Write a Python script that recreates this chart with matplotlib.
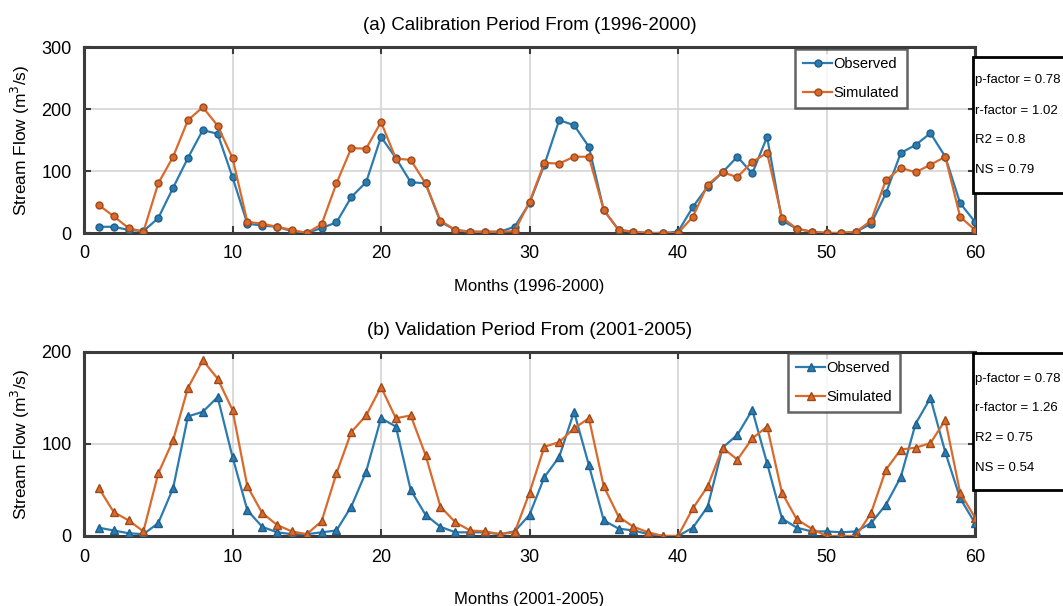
import matplotlib
matplotlib.use("Agg")
import matplotlib.pyplot as plt
import numpy as np

months = list(range(1, 61))

obs_cal = [10, 10, 5, 3, 24, 73, 121, 166, 160, 90,
           15, 12, 10, 3, 0, 8, 17, 58, 82, 155,
           121, 82, 80, 18, 5, 2, 2, 2, 10, 48,
           110, 182, 174, 139, 37, 5, 2, 0, 0, 2,
           42, 75, 98, 123, 96, 155, 20, 7, 2, 0,
           0, 2, 15, 64, 129, 142, 161, 123, 48, 18]
sim_cal = [45, 27, 8, 2, 80, 123, 182, 203, 173, 121,
           18, 15, 10, 5, 0, 14, 80, 137, 136, 179,
           120, 118, 80, 20, 5, 2, 2, 2, 3, 50,
           113, 112, 123, 123, 37, 5, 2, 0, 0, 0,
           26, 78, 98, 90, 115, 129, 25, 7, 2, 0,
           0, 2, 20, 85, 105, 98, 110, 123, 26, 5]

obs_val = [9, 6, 3, 2, 14, 52, 130, 135, 151, 86,
           28, 10, 4, 2, 2, 4, 6, 32, 70, 128,
           119, 50, 23, 10, 4, 4, 4, 2, 5, 23,
           64, 86, 135, 77, 17, 8, 6, 2, 0, 0,
           9, 32, 96, 110, 137, 79, 19, 9, 5, 5,
           4, 5, 14, 34, 64, 122, 150, 91, 41, 14]
sim_val = [52, 26, 17, 5, 68, 104, 161, 191, 171, 137,
           54, 25, 12, 5, 2, 16, 68, 113, 131, 162,
           128, 131, 88, 32, 15, 6, 5, 2, 4, 47,
           97, 102, 117, 128, 54, 21, 10, 4, 0, 0,
           30, 54, 96, 83, 106, 119, 47, 18, 8, 0,
           0, 0, 25, 72, 94, 96, 101, 126, 47, 20]

stats_cal = ["p-factor = 0.78", "r-factor = 1.02", "R2 = 0.8", "NS = 0.79"]
stats_val = ["p-factor = 0.78", "r-factor = 1.26", "R2 = 0.75", "NS = 0.54"]

W, H = 1063, 606
fig = plt.figure(figsize=(W / 100, H / 100), dpi=100)
plt.rcParams['font.family'] = ['Liberation Sans', 'DejaVu Sans']

BLUE = "#2b7bb0"
ORANGE = "#d96a2c"
SPINE = "#3c3c3c"


def fr(x0, y0, x1, y1):
    return [x0 / W, 1 - y1 / H, (x1 - x0) / W, (y1 - y0) / H]


def setup(ax, ymax, yticks, title, xlabel, xlabpad):
    ax.set_xlim(0, 60)
    ax.set_ylim(0, ymax)
    ax.set_xticks([0, 10, 20, 30, 40, 50, 60])
    ax.set_yticks(yticks)
    ax.grid(True, color="#d4d4d4", linewidth=1.2)
    ax.set_axisbelow(True)
    for s in ax.spines.values():
        s.set_color(SPINE)
        s.set_linewidth(2.2)
    ax.tick_params(direction="in", length=5, width=1.5, color=SPINE,
                   top=True, right=True, labelsize=13, pad=9)
    ax.set_title(title, fontsize=13.5, pad=12)
    ax.set_xlabel(xlabel, fontsize=12, labelpad=xlabpad)
    ax.set_ylabel("Stream Flow (m$^3$/s)", fontsize=12.5, labelpad=7)


ax1 = fig.add_axes(fr(84, 47, 975, 233))
setup(ax1, 300, [0, 100, 200, 300], "(a) Calibration Period From (1996-2000)",
      "Months (1996-2000)", 12)
ax1.plot(months, obs_cal, "-o", color=BLUE, lw=1.6, ms=5, mec="#1f5f8a",
         mew=1.0, label="Observed", zorder=3)
ax1.plot(months, sim_cal, "-o", color=ORANGE, lw=1.6, ms=5, mec="#a04a1a",
         mew=1.0, label="Simulated", zorder=3)
leg1 = ax1.legend(loc="upper left", bbox_to_anchor=(795 / W, 1 - 49 / H),
                  bbox_transform=fig.transFigure, fontsize=10.5, frameon=True,
                  fancybox=False, handlelength=2.0, handletextpad=0.1,
                  borderpad=0.55, labelspacing=1.0, borderaxespad=0)
leg1.get_frame().set_edgecolor(SPINE)
leg1.get_frame().set_linewidth(1.8)

ax2 = fig.add_axes(fr(84, 352, 975, 536))
setup(ax2, 200, [0, 100, 200], "(b) Validation Period From (2001-2005)",
      "Months (2001-2005)", 19)
ax2.plot(months, obs_val, "-^", color=BLUE, lw=1.6, ms=5.5, mec="#1f5f8a",
         mew=1.0, label="Observed", zorder=3)
ax2.plot(months, sim_val, "-^", color=ORANGE, lw=1.6, ms=5.5, mec="#a04a1a",
         mew=1.0, label="Simulated", zorder=3)
leg2 = ax2.legend(loc="upper left", bbox_to_anchor=(788 / W, 1 - 353 / H),
                  bbox_transform=fig.transFigure, fontsize=10.5, frameon=True,
                  fancybox=False, handlelength=2.0, handletextpad=0.1,
                  borderpad=0.55, labelspacing=1.0, borderaxespad=0)
leg2.get_frame().set_edgecolor(SPINE)
leg2.get_frame().set_linewidth(1.8)

# stats boxes
for (y0, y1, ys, lines) in [(57, 193, [80, 111, 140, 170], stats_cal),
                            (353, 490, [379, 408, 438, 468], stats_val)]:
    rect = plt.Rectangle((973 / W, 1 - y1 / H), 120 / W, (y1 - y0) / H,
                         transform=fig.transFigure, facecolor="white",
                         edgecolor="black", linewidth=2, zorder=5)
    fig.add_artist(rect)
    for y, t in zip(ys, lines):
        fig.text(975 / W, 1 - y / H, t, fontsize=9.5, va="center",
                 ha="left", zorder=6)

fig.savefig("out.png", dpi=100)
